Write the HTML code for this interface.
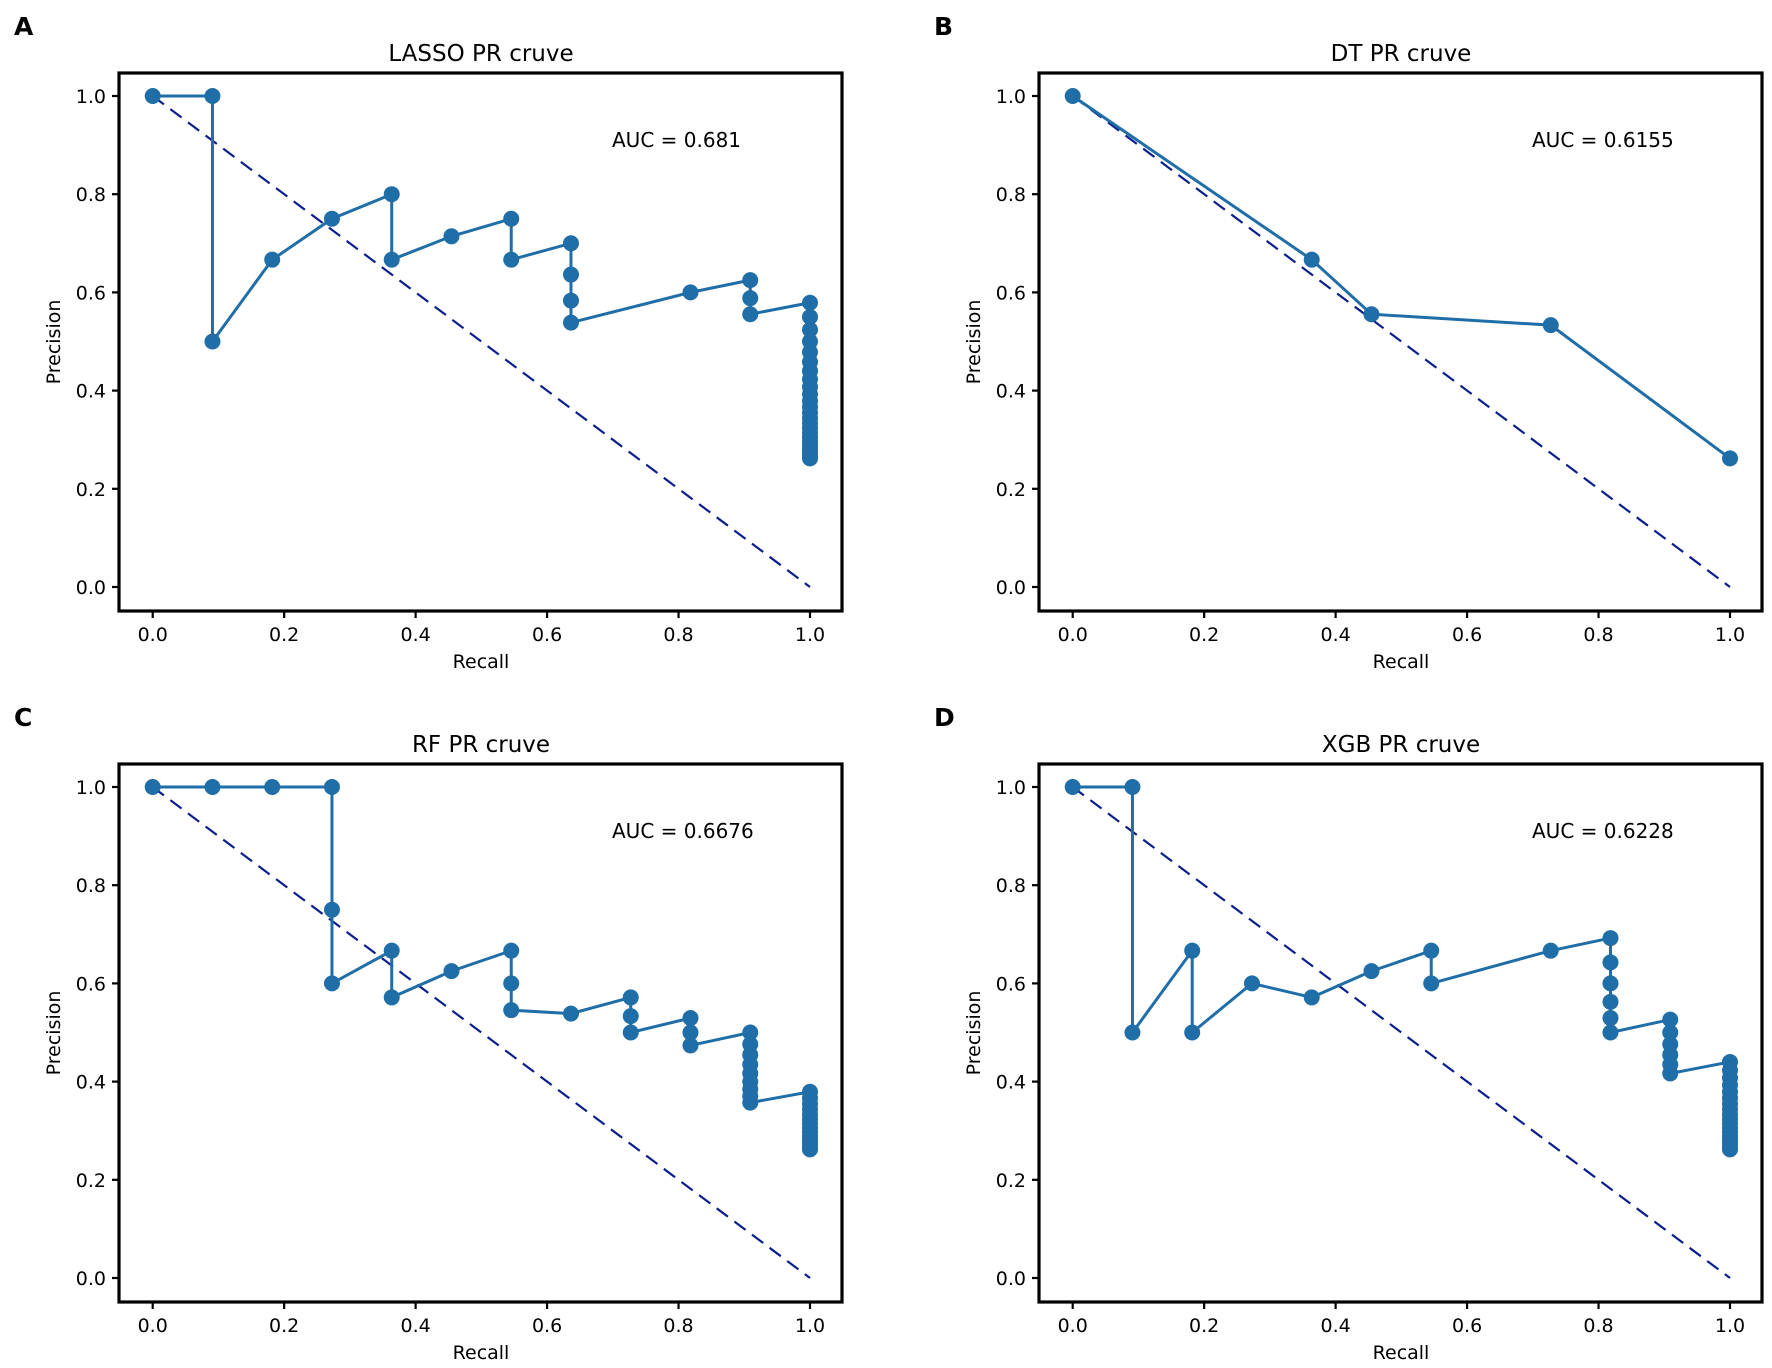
<!DOCTYPE html>
<html><head><meta charset="utf-8"><style>
html,body{margin:0;padding:0;background:#fff;}
svg{display:block;}
text{font-family:"DejaVu Sans","Liberation Sans",sans-serif;fill:#000;}
</style></head><body>
<svg id="s" width="1772" height="1368" viewBox="0 0 1772 1368" xmlns="http://www.w3.org/2000/svg"></svg>
<script>
const s=document.getElementById('s');
let h='';
const B='#1f6ea8', N='#0b1f8c';
function panel(dx,dy,letter,title,auc,pts){
  const X=v=>dx+152.7+v*657.3, Y=v=>dy+587-v*491;
  let g='';
  g+=`<text x="${dx+14}" y="${dy+35}" font-size="25" font-weight="bold" font-family="Liberation Sans,sans-serif">${letter}</text>`;
  g+=`<text x="${dx+481}" y="${dy+61}" font-size="23" text-anchor="middle">${title}</text>`;
  for(let i=0;i<=5;i++){const v=i/5;
    g+=`<line x1="${X(v)}" y1="${dy+611}" x2="${X(v)}" y2="${dy+618}" stroke="#000" stroke-width="2.2"/>`;
    g+=`<text x="${X(v)}" y="${dy+641}" font-size="19" text-anchor="middle">${v.toFixed(1)}</text>`;
    g+=`<line x1="${dx+112}" y1="${Y(v)}" x2="${dx+119}" y2="${Y(v)}" stroke="#000" stroke-width="2.2"/>`;
    g+=`<text x="${dx+106}" y="${Y(v)+7}" font-size="19" text-anchor="end">${v.toFixed(1)}</text>`;
  }
  g+=`<text x="${dx+481}" y="${dy+668}" font-size="19" text-anchor="middle">Recall</text>`;
  g+=`<text transform="translate(${dx+60},${dy+342}) rotate(-90)" font-size="19" text-anchor="middle">Precision</text>`;
  g+=`<text x="${dx+612}" y="${dy+147}" font-size="20">${auc}</text>`;
  g+=`<line x1="${X(0)}" y1="${Y(1)}" x2="${X(1)}" y2="${Y(0)}" stroke="${N}" stroke-width="2.2" stroke-dasharray="14,8"/>`;
  g+=`<polyline fill="none" stroke="${B}" stroke-width="3" points="${pts.map(p=>X(p[0])+','+Y(p[1])).join(' ')}"/>`;
  pts.forEach(p=>{g+=`<circle cx="${X(p[0])}" cy="${Y(p[1])}" r="8" fill="${B}"/>`;});
  g+=`<rect x="${dx+119}" y="${dy+73}" width="723" height="538" fill="none" stroke="#000" stroke-width="3.2"/>`;
  h+=g;
}
const r=n=>n/11;
function tail(num,from,to,rec){const a=[];for(let n=from;n<=to;n++)a.push([rec,num/n]);return a;}
const lasso=[[0,1],[r(1),1],[r(1),.5],[r(2),2/3],[r(3),.75],[r(4),.8],[r(4),2/3],[r(5),5/7],[r(6),.75],[r(6),2/3],
 ...tail(7,10,13,r(7)),[r(9),.6],...tail(10,16,18,r(10)),...tail(11,19,42,1)];
const dt=[[0,1],[r(4),2/3],[r(5),5/9],[r(8),8/15],[1,11/42]];
const rf=[[0,1],[r(1),1],[r(2),1],[r(3),1],[r(3),.75],[r(3),.6],[r(4),2/3],[r(4),4/7],[r(5),.625],[r(6),2/3],[r(6),.6],[r(6),6/11],
 [r(7),7/13],[r(8),8/14],[r(8),8/15],[r(8),.5],[r(9),9/17],[r(9),.5],[r(9),9/19],...tail(10,20,28,r(10)),...tail(11,29,42,1)];
const xgb=[[0,1],[r(1),1],[r(1),.5],[r(2),2/3],[r(2),.5],[r(3),.6],[r(4),4/7],[r(5),.625],[r(6),2/3],[r(6),.6],[r(8),2/3],
 ...tail(9,13,18,r(9)),...tail(10,19,24,r(10)),...tail(11,25,42,1)];
panel(0,0,'A','LASSO PR cruve','AUC = 0.681',lasso);
panel(920,0,'B','DT PR cruve','AUC = 0.6155',dt);
panel(0,691,'C','RF PR cruve','AUC = 0.6676',rf);
panel(920,691,'D','XGB PR cruve','AUC = 0.6228',xgb);
s.innerHTML=h;
</script>
</body></html>
